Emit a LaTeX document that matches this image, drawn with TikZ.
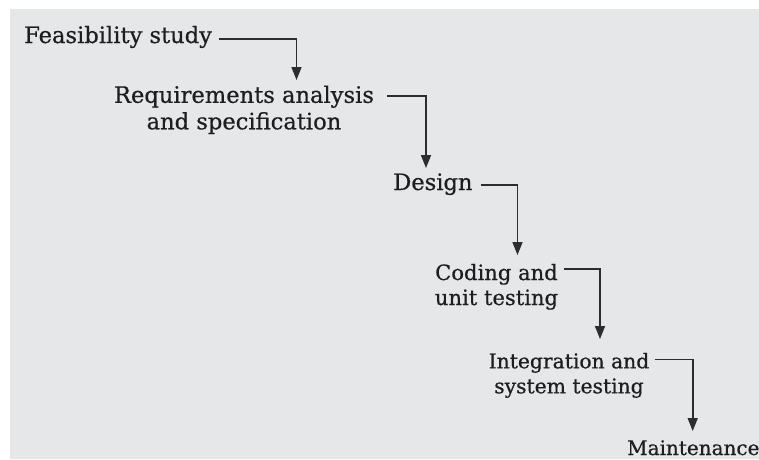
\documentclass[tikz,border=0pt]{standalone}
\usepackage{fontspec}
\setmainfont{DejaVu Serif}
\newfontfamily\stagefont{DejaVu Serif}[FakeBold=0.6]
\usetikzlibrary{arrows.meta}
\definecolor{panel}{RGB}{230,231,233}
\definecolor{ink}{RGB}{30,30,30}
\definecolor{wire}{RGB}{45,45,45}
\begin{document}
\begin{tikzpicture}[x=1pt,y=-1pt,
  stage/.style={inner sep=0pt, align=center, text=ink,
    font=\stagefont\fontsize{22.6}{26.5}\selectfont},
  flow/.style={draw=wire, line width=1.6pt,
    -{Triangle[width=10pt,length=13pt]}}]
\useasboundingbox (0,0) rectangle (759,459);
\fill[white] (0,0) rectangle (759,459);
\fill[panel] (10,9) rectangle (759,459);

% phases of the waterfall (multi-line nodes are placed by their last baseline)
\node[stage, anchor=base west] (feas)   at (24,43)   {Feasibility study};
\node[stage, anchor=base]      (req)    at (244,129.3) {Requirements analysis\\and specification};
\node[stage, anchor=base west] (design) at (393,190) {Design};
\node[stage, anchor=base, font=\stagefont\fontsize{21.1}{25}\selectfont]
                               (code)   at (496.5,305) {Coding and\\unit testing};
\node[stage, anchor=base, font=\stagefont\fontsize{20.3}{25}\selectfont]
                               (integ)  at (569,393.3) {Integration and\\system testing};
\node[stage, anchor=base west, font=\stagefont\fontsize{20}{25}\selectfont]
                               (maint)  at (627,455) {Maintenance};

% arrow tips above each following phase
\coordinate (t1) at (296.5,80);
\coordinate (t2) at (426,168);
\coordinate (t3) at (517.5,255);
\coordinate (t4) at (600,339);
\coordinate (t5) at (692.7,431);

\draw[flow] ([shift={(7,2)}]feas.east) -| (t1);
\draw[flow] ([shift={(13,10.7)}]req.north east) -| (t2);
\draw[flow] ([shift={(8,1)}]design.east) -| (t3);
\draw[flow] ([shift={(6,5.5)}]code.north east) -| (t4);
\draw[flow] ([shift={(5,7)}]integ.north east) -| (t5);
\end{tikzpicture}
\end{document}
